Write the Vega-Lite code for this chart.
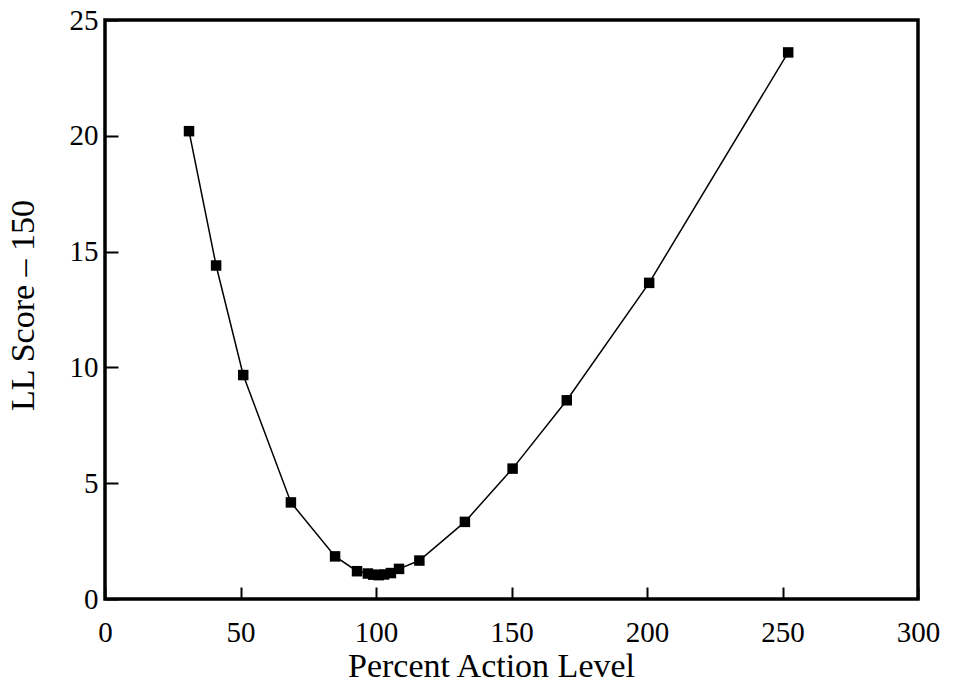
{
  "$schema": "https://vega.github.io/schema/vega-lite/v6.json",
  "width": 813,
  "height": 579,
  "autosize": {"type": "none"},
  "padding": {"left": 105, "top": 20, "right": 35, "bottom": 84},
  "background": "white",
  "config": {
    "view": {"stroke": "black", "strokeWidth": 3.5},
    "font": "Liberation Serif",
    "axis": {
      "grid": false,
      "domain": false,
      "ticks": true,
      "tickColor": "black",
      "tickWidth": 2,
      "labelColor": "black",
      "titleColor": "black",
      "labelFont": "Liberation Serif",
      "titleFont": "Liberation Serif",
      "labelFontSize": 29,
      "titleFontSize": 34,
      "titleFontWeight": "normal"
    }
  },
  "data": {
    "values": [
      {"pct": 31, "score": 20.2},
      {"pct": 41, "score": 14.4},
      {"pct": 51, "score": 9.67},
      {"pct": 68.6, "score": 4.17},
      {"pct": 84.9, "score": 1.84},
      {"pct": 93, "score": 1.2},
      {"pct": 97, "score": 1.1},
      {"pct": 99, "score": 1.05},
      {"pct": 101, "score": 1.03},
      {"pct": 103, "score": 1.06},
      {"pct": 105.5, "score": 1.12},
      {"pct": 108.5, "score": 1.3},
      {"pct": 116, "score": 1.66},
      {"pct": 132.8, "score": 3.33},
      {"pct": 150.4, "score": 5.63},
      {"pct": 170.4, "score": 8.58},
      {"pct": 200.8, "score": 13.65},
      {"pct": 252.1, "score": 23.6}
    ]
  },
  "encoding": {
    "x": {
      "field": "pct",
      "type": "quantitative",
      "scale": {"domain": [0, 300], "nice": false, "zero": false},
      "axis": {
        "title": "Percent Action Level",
        "values": [0, 50, 100, 150, 200, 250, 300],
        "offset": -12,
        "tickSize": 12,
        "labelPadding": 19,
        "labelFlush": false,
        "titleX": 386,
        "titleY": 89,
        "titleBaseline": "alphabetic",
        "titleAlign": "center"
      }
    },
    "y": {
      "field": "score",
      "type": "quantitative",
      "scale": {"domain": [0, 25], "nice": false},
      "axis": {
        "title": "LL Score – 150",
        "values": [0, 5, 10, 15, 20, 25],
        "offset": -13,
        "tickSize": 13,
        "labelPadding": 7,
        "labelFlush": false,
        "titleX": -85,
        "titleY": 285,
        "titleAngle": -90,
        "titleBaseline": "alphabetic",
        "titleAlign": "center"
      }
    }
  },
  "layer": [
    {"mark": {"type": "line", "color": "black", "strokeWidth": 1.5}},
    {"mark": {"type": "point", "shape": "square", "filled": true, "color": "black", "opacity": 1, "size": 110}}
  ]
}
